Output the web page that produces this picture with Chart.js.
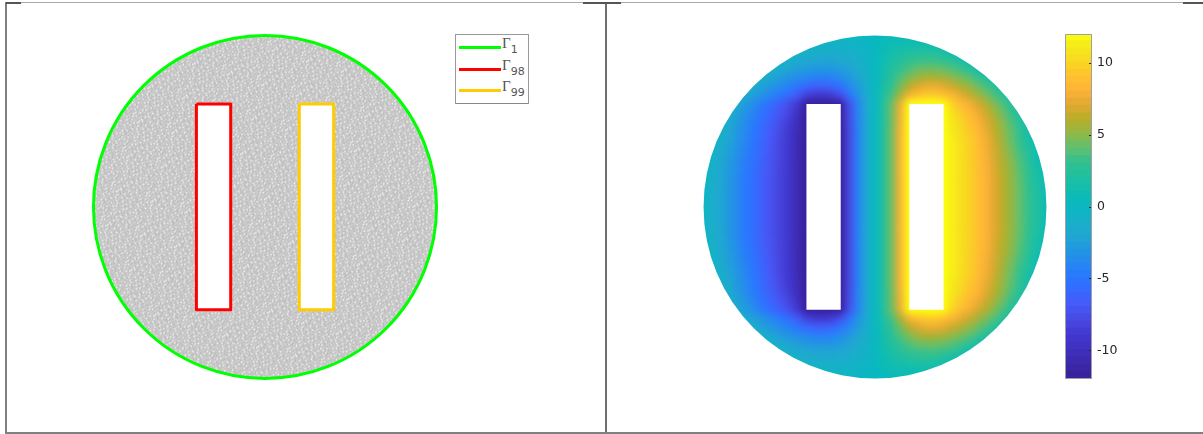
<!DOCTYPE html>
<html>
<head>
<meta charset="utf-8">
<title>Gamma boundaries and field</title>
<script src="https://cdn.jsdelivr.net/npm/chart.js@4"></script>
<style>
  html, body { margin: 0; padding: 0; background: #fff; }
  #fig { position: relative; width: 1203px; height: 434px; overflow: hidden; }
  #fig canvas { position: absolute; display: block; }
  .ln { position: absolute; z-index: 5; }
  #legenda { position: absolute; z-index: 6; left: 455px; top: 34px; width: 72px; height: 68px; background: #fff;
    border: 1px solid #999; border-bottom-color: #888; }
  #legenda .it { position: absolute; left: 3px; height: 20px; width: 68px; }
  #legenda i { position: absolute; left: 0; top: 0; width: 42px; height: 3px; }
  #legenda span { position: absolute; left: 43px; top: -11px; font: 15px 'Liberation Serif', serif; color: #555; white-space: nowrap; }
  #legenda sub { font: 11px 'DejaVu Sans', sans-serif; vertical-align: -5px; }
</style>
</head>
<body>
<div id="fig">
  <canvas id="chartMalha" style="left:0;top:0"></canvas>
  <canvas id="chartCampo" style="left:606px;top:0"></canvas>
  <canvas id="chartBarra" style="left:1065px;top:24px"></canvas>
  <div class="ln" style="left:5px;top:2px;width:1198px;height:1px;background:#aaa"></div>
  <div class="ln" style="left:5px;top:2px;width:2px;height:432px;background:#7f7f7f"></div>
  <div class="ln" style="left:605px;top:2px;width:2px;height:432px;background:#6e6e6e"></div>
  <div class="ln" style="left:5px;top:432px;width:1198px;height:2px;background:#808080"></div>
  <div class="ln" style="left:6px;top:2px;width:15px;height:2px;background:#555"></div>
  <div class="ln" style="left:583px;top:2px;width:38px;height:2px;background:#555"></div>
  <div class="ln" style="left:1183px;top:2px;width:20px;height:2px;background:#555"></div>
  <div id="legenda"></div>
</div>
<script>
// dimensoes do dominio: disco de raio 1 com dois furos retangulares
const discoCentro = [{ x: 0, y: 0 }];
const discoRaio = 1;
const furoEsq = [{ x: -0.4, y: 0.6 }, { x: -0.2, y: 0.6 }, { x: -0.2, y: -0.6 }, { x: -0.4, y: -0.6 }, { x: -0.4, y: 0.6 }];
const furoDir = [{ x: 0.2, y: 0.6 }, { x: 0.4, y: 0.6 }, { x: 0.4, y: -0.6 }, { x: 0.2, y: -0.6 }, { x: 0.2, y: 0.6 }];

const legendaNomes = ['1', '98', '99'];
const legendaCores = ['#00ff00', '#ff0000', '#ffcc00'];

// limites dos eixos (o disco tem 171.5 px por unidade)
const malhaX = [-1.545, 1.988];
const campoX = [-1.569, 1.913];
const eixoY = [-1.324, 1.207];

// colorbar
const barraTicks = [-10, -5, 0, 5, 10];
const barraLim = [-12, 12];
const barraNiveis = [-12, -11.5, -11, -10.5, -10, -9.5, -9, -8.5, -8, -7.5, -7, -6.5, -6, -5.5, -5, -4.5, -4, -3.5, -3, -2.5, -2, -1.5, -1, -0.5, 0,
  0.5, 1, 1.5, 2, 2.5, 3, 3.5, 4, 4.5, 5, 5.5, 6, 6.5, 7, 7.5, 8, 8.5, 9, 9.5, 10, 10.5, 11, 11.5, 12];

const mapaValores = [-12, -11, -10, -9, -8, -7, -6, -5, -4, -3, -2, -1, 0, 1, 2, 3, 4, 5, 6, 7, 8, 9, 10, 11, 12];
const mapaCores = ['#38209c', '#3c28a8', '#4030c0', '#4038d0', '#4848e0', '#4858f8', '#3868ff', '#2878ff', '#2888f0', '#2098e0', '#20a8d0', '#18b0c8',
  '#08b8c0', '#10bcb0', '#20c0a0', '#30c090', '#60c070', '#90b848', '#b8ae28', '#e0a830', '#ffb238', '#ffc030', '#f8d820', '#f5e81c', '#fcff10'];

const campoXs = [-1, -0.95, -0.9, -0.85, -0.8, -0.75, -0.7, -0.65, -0.6, -0.55, -0.5, -0.45, -0.4, -0.35, -0.3, -0.25, -0.2, -0.15, -0.1, -0.05, 0,
  0.05, 0.1, 0.15, 0.2, 0.25, 0.3, 0.35, 0.4, 0.45, 0.5, 0.55, 0.6, 0.65, 0.7, 0.75, 0.8, 0.85, 0.9, 0.95, 1];
const campoYs = [1, 0.95, 0.9, 0.85, 0.8, 0.75, 0.7, 0.65, 0.6, 0.55, 0.5, 0.45, 0.4, 0.35, 0.3, 0.25, 0.2, 0.15, 0.1, 0.05, 0,
  -0.05, -0.1, -0.15, -0.2, -0.25, -0.3, -0.35, -0.4, -0.45, -0.5, -0.55, -0.6, -0.65, -0.7, -0.75, -0.8, -0.85, -0.9, -0.95, -1];

const l100 = [-.3,-.3,-.3,-.3,-.3,-.3,-.3,-.3,-.3,-.3,-.3,-.3,-.3,-.3,-.3,-.3,-.3,-.3,-.3,-.2,0, .2,.4,.5,.5,.5,.5,.5,.5,.5,.5,.5,.5,.5,.5,.5,.5,.5,.5,.5,.5];
const l095 = [-.3,-.3,-.3,-.3,-.3,-.3,-.3,-.3,-.3,-.3,-.3,-.3,-.3,-.4,-.6,-.7,-.7,-.6,-.5,-.3,0, .4,.7,.9,1,1,.9,.6,.5,.5,.5,.5,.5,.5,.5,.5,.5,.5,.5,.5,.5];
const l090 = [-.3,-.3,-.3,-.3,-.3,-.3,-.3,-.3,-.3,-.3,-.3,-.6,-1,-1.2,-1.3,-1.3,-1.3,-1.1,-.9,-.5,0, .7,1.2,1.6,1.9,2.1,2.1,2,1.7,1,.5,.5,.5,.5,.5,.5,.5,.5,.5,.5,.5];
const l085 = [-.3,-.3,-.3,-.3,-.3,-.3,-.3,-.3,-.3,-.5,-1.2,-1.7,-2,-2.1,-2.2,-2.2,-2,-1.7,-1.3,-.7,0, .9,1.7,2.3,2.8,3.1,3.2,3.2,3,2.6,1.8,.9,.5,.5,.5,.5,.5,.5,.5,.5,.5];
const l080 = [-.3,-.3,-.3,-.3,-.3,-.3,-.3,-.3,-.8,-1.7,-2.2,-2.6,-2.9,-3.1,-3.2,-3.1,-2.8,-2.3,-1.7,-.9,0, 1.1,2.1,3,3.7,4.2,4.4,4.4,4.2,3.8,3.3,2.6,1.3,.5,.5,.5,.5,.5,.5,.5,.5];
const l075 = [-.3,-.3,-.3,-.3,-.3,-.3,-.5,-1.4,-2.2,-2.8,-3.3,-3.8,-4.2,-4.5,-4.6,-4.4,-3.9,-3.1,-2.2,-1.1,0, 1.3,2.6,3.7,4.7,5.4,5.8,5.8,5.6,5.1,4.6,4,3.2,2.1,.8,.5,.5,.5,.5,.5,.5];
const l070 = [-.3,-.3,-.3,-.3,-.3,-.8,-1.7,-2.5,-3.2,-3.9,-4.5,-5.2,-6,-6.5,-6.6,-6.2,-5.4,-4.1,-2.8,-1.4,0, 1.5,3,4.5,6,7,7.5,7.5,7.2,6.6,5.9,5.2,4.4,3.5,2.5,1.2,.5,.5,.5,.5,.5];
const l065 = [-.3,-.3,-.3,-.3,-.8,-1.7,-2.6,-3.4,-4.2,-5,-5.8,-7,-8.5,-9.2,-9.3,-8.8,-7.6,-5.4,-3.5,-1.7,0, 1.7,3.6,5.6,7.8,9,9.5,9.5,9,8.2,7.3,6.4,5.5,4.6,3.6,2.4,1.1,.5,.5,.5,.5];
const l060 = [-.3,-.3,-.3,-.6,-1.8,-2.9,-3.9,-4.9,-5.8,-6.7,-7.7,-9,-12,-12,-12,-12,-12,-7.5,-4.3,-2,0, 2,4.3,7.5,12,12,12,12,12,9.8,8.8,7.8,6.8,5.8,4.7,3.5,2.2,.8,.5,.5,.5];
const l055 = [-.3,-.3,-.4,-1.3,-2.4,-3.4,-4.4,-5.4,-6.3,-7.2,-8.2,-9.8,-12,-12,-12,-12,-12,-7.7,-4.4,-2,0, 2,4.4,7.7,12,12,12,12,12,10.5,9.4,8.5,7.5,6.5,5.4,4.2,3,1.7,.6,.5,.5];
const l050 = [-.3,-.3,-.6,-1.7,-2.8,-3.8,-4.8,-5.8,-6.7,-7.6,-8.7,-10.2,-12,-12,-12,-12,-12,-7.8,-4.4,-2,0, 2,4.4,7.8,12,12,12,12,12,10.9,9.9,9,8.1,7,5.9,4.7,3.5,2.2,1,.5,.5];
const l045 = [-.3,-.3,-.9,-2,-3,-4,-5,-6,-7,-7.9,-9,-10.4,-12,-12,-12,-12,-12,-7.9,-4.5,-2,0, 2,4.5,7.9,12,12,12,12,12,11,10.2,9.3,8.4,7.3,6.2,5,3.9,2.6,1.3,.5,.5];
const l040 = [-.3,-.3,-1.1,-2.2,-3.2,-4.2,-5.2,-6.2,-7.1,-8.1,-9.1,-10.5,-12,-12,-12,-12,-12,-8,-4.5,-2,0, 2,4.5,8,12,12,12,12,12,11.2,10.4,9.6,8.7,7.6,6.4,5.2,4,2.8,1.5,.5,.5];
const l035 = [-.3,-.5,-1.4,-2.4,-3.4,-4.4,-5.4,-6.3,-7.2,-8.2,-9.2,-10.6,-12,-12,-12,-12,-12,-8,-4.5,-2,0, 2,4.5,8,12,12,12,12,12,11.3,10.5,9.7,8.8,7.7,6.6,5.4,4.3,3.1,1.9,.7,.5];
const l030 = [-.3,-.6,-1.7,-2.6,-3.6,-4.6,-5.5,-6.4,-7.3,-8.2,-9.2,-10.6,-12,-12,-12,-12,-12,-8,-4.5,-2,0, 2,4.5,8,12,12,12,12,12,11.3,10.5,9.7,8.9,7.8,6.7,5.6,4.6,3.4,2.2,.9,.5];
const l025 = [-.3,-.8,-1.9,-2.8,-3.8,-4.8,-5.6,-6.5,-7.4,-8.3,-9.3,-10.6,-12,-12,-12,-12,-12,-8,-4.5,-2,0, 2,4.5,8,12,12,12,12,12,11.3,10.5,9.8,8.9,7.9,6.8,5.8,4.8,3.6,2.5,1.2,.5];
const l020 = [-.3,-1,-2,-2.9,-3.9,-4.9,-5.7,-6.6,-7.4,-8.3,-9.3,-10.6,-12,-12,-12,-12,-12,-8,-4.5,-2,0, 2,4.5,8,12,12,12,12,12,11.3,10.5,9.8,9,8,6.9,5.9,4.9,3.8,2.7,1.5,.5];
const l015 = [-.3,-1.1,-2,-3,-4,-5,-5.8,-6.7,-7.5,-8.4,-9.3,-10.6,-12,-12,-12,-12,-12,-8,-4.5,-2,0, 2,4.5,8,12,12,12,12,12,11.3,10.5,9.8,9,8.1,7,6,5,3.9,2.8,1.7,.6];
const l010 = [-.3,-1.2,-2.1,-3,-4,-5,-5.8,-6.7,-7.5,-8.4,-9.3,-10.6,-12,-12,-12,-12,-12,-8,-4.5,-2,0, 2,4.5,8,12,12,12,12,12,11.3,10.5,9.8,9,8.1,7,6,5,4,2.9,1.8,.7];
const l005 = [-.3,-1.2,-2.1,-3,-4,-5,-5.8,-6.7,-7.5,-8.4,-9.3,-10.6,-12,-12,-12,-12,-12,-8,-4.5,-2,0, 2,4.5,8,12,12,12,12,12,11.3,10.5,9.8,9,8.1,7,6,5,4,3,1.9,.8];
const l000 = [-.3,-1.2,-2.1,-3,-4,-5,-5.8,-6.7,-7.5,-8.4,-9.3,-10.6,-12,-12,-12,-12,-12,-8,-4.5,-2,0, 2,4.5,8,12,12,12,12,12,11.3,10.5,9.8,9,8.1,7,6,5,4,3,1.9,.8];
const campoLinhas = [l100, l095, l090, l085, l080, l075, l070, l065, l060, l055, l050, l045, l040, l035, l030, l025, l020, l015, l010, l005, l000,
  l005, l010, l015, l020, l025, l030, l035, l040, l045, l050, l055, l060, l065, l070, l075, l080, l085, l090, l095, l100];

// textura da malha (tile), 0 escuro .. 3 quase branco
const malhaTile = [
  '112031102113011203110213',
  '021102130110211021301102',
  '130112011203021130110211',
  '011210213011120311021301',
  '103011021102130112011120',
  '211130110301102031121103',
  '021102012113011210213011',
  '113021130110201130110212',
  '011201103021131021201301',
  '302110211201011203011120',
  '110311021130120110311021',
  '021102130011203021102130',
  '130120112102110211301102',
  '011211303011021130110213',
  '120130110211302011211011',
  '021011203110110213021302',
  '113021102130211011120110',
  '011201130110301120311021',
  '203110211021102130110213',
  '110213011203011021203011',
  '021101302110211301102120',
  '130211021011302110120311',
  '011030120213011021131021',
  '201121011102130211010211'
];
const malhaCinzas = ['#bababa', '#c8c8c8', '#d4d4d4', '#f2f2f2'];

function corDe(v) {
  let i = 0;
  while (i < mapaValores.length - 2 && v > mapaValores[i + 1]) i++;
  const t = Math.min(1, Math.max(0, (v - mapaValores[i]) / (mapaValores[i + 1] - mapaValores[i])));
  const a = parseInt(mapaCores[i].slice(1), 16), b = parseInt(mapaCores[i + 1].slice(1), 16);
  const c = s => Math.round(((a >> s) & 255) * (1 - t) + ((b >> s) & 255) * t);
  return `rgb(${c(16)},${c(8)},${c(0)})`;
}

function padraoMalha() {
  const tile = document.createElement('canvas');
  tile.width = tile.height = malhaTile.length;
  const t = tile.getContext('2d');
  malhaTile.forEach((lin, y) => [...lin].forEach((ch, x) => {
    t.fillStyle = malhaCinzas[+ch];
    t.fillRect(x, y, 1, 1);
  }));
  const p = document.getElementById('chartMalha').getContext('2d').createPattern(tile, 'repeat');
  // gira um pouco para nao aparecer a grade do tile
  p.setTransform(new DOMMatrix().rotate(17).scale(1.5));
  return p;
}

function raioPx(ctx) {
  const s = ctx.chart.scales.x;
  return Math.abs(s.getPixelForValue(discoRaio) - s.getPixelForValue(0));
}

function baseOpt(xLim) {
  return {
    responsive: false, animation: false, events: [],
    layout: { padding: 0, autoPadding: false },
    plugins: { legend: { display: false }, tooltip: { enabled: false } },
    scales: {
      x: { type: 'linear', display: false, min: xLim[0], max: xLim[1] },
      y: { type: 'linear', display: false, min: eixoY[0], max: eixoY[1] }
    }
  };
}

function criaCanvas(id, w, h) {
  const c = document.getElementById(id);
  c.width = w; c.height = h;
  c.style.width = w + 'px'; c.style.height = h + 'px';
  return c;
}

function furoDataset(data, cor, largura, ordem) {
  return { data, showLine: true, fill: 'shape', backgroundColor: '#fff', borderColor: cor, borderWidth: largura,
    borderJoinStyle: 'round', pointRadius: 0, tension: 0, order: ordem };
}

// painel esquerdo: malha e contornos
criaCanvas('chartMalha', 606, 434);
new Chart(document.getElementById('chartMalha'), {
  type: 'scatter',
  data: {
    datasets: [
      furoDataset(furoDir, legendaCores[2], 3, 1),
      furoDataset(furoEsq, legendaCores[1], 3, 2),
      { data: discoCentro, pointRadius: raioPx, pointBackgroundColor: padraoMalha(), pointBorderColor: legendaCores[0], pointBorderWidth: 3, order: 3 }
    ]
  },
  options: baseOpt(malhaX)
});

// desfoca as celulas do campo e recorta no disco
const recorteDisco = {
  id: 'recorteDisco',
  afterDatasetDraw(chart, args) {
    if (args.index !== 2) return;
    const { ctx, canvas, scales: { x, y } } = chart;
    const r = Math.abs(x.getPixelForValue(discoRaio) - x.getPixelForValue(0));
    const cx = x.getPixelForValue(0), cy = y.getPixelForValue(0);
    ctx.save();
    ctx.filter = 'blur(3.5px)';
    ctx.drawImage(canvas, 0, 0);
    ctx.filter = 'none';
    ctx.beginPath();
    ctx.rect(0, 0, canvas.width, canvas.height);
    ctx.arc(cx, cy, r, 0, Math.PI * 2);
    ctx.fillStyle = '#fff';
    ctx.fill('evenodd');
    ctx.restore();
  }
};

const celulas = [];
const celulasCor = [];
campoLinhas.forEach((lin, i) => lin.forEach((v, j) => {
  celulas.push({ x: campoXs[j], y: campoYs[i] });
  celulasCor.push(corDe(v));
}));

// painel direito: campo
criaCanvas('chartCampo', 597, 434);
new Chart(document.getElementById('chartCampo'), {
  type: 'scatter',
  data: {
    datasets: [
      furoDataset(furoDir, '#fff', 0, 1),
      furoDataset(furoEsq, '#fff', 0, 2),
      { data: celulas, pointStyle: 'rect', pointRadius: 6.5, pointBorderWidth: 0, pointBackgroundColor: celulasCor, order: 3 }
    ]
  },
  plugins: [recorteDisco],
  options: baseOpt(campoX)
});

// moldura e tracinhos internos da colorbar
const molduraBarra = {
  id: 'molduraBarra',
  afterDatasetsDraw(chart) {
    const { ctx, chartArea: a, scales: { y } } = chart;
    ctx.save();
    ctx.strokeStyle = '#262626';
    ctx.lineWidth = 1;
    barraTicks.forEach(v => {
      const py = Math.round(y.getPixelForValue(v)) + 0.5;
      ctx.beginPath(); ctx.moveTo(a.right - 3, py); ctx.lineTo(a.right, py); ctx.stroke();
    });
    ctx.strokeStyle = '#a0a0a0';
    ctx.strokeRect(a.left + 0.5, a.top + 0.5, a.right - a.left - 1, a.bottom - a.top - 1);
    ctx.restore();
  }
};

const barraFaixas = barraNiveis.slice(0, -1).map((v, i) => {
  const cor = corDe((v + barraNiveis[i + 1]) / 2);
  return { data: [[v, barraNiveis[i + 1]]], backgroundColor: cor, borderColor: cor, borderWidth: 0, inflateAmount: 1, borderSkipped: false,
    grouped: false, barPercentage: 1, categoryPercentage: 1 };
});

criaCanvas('chartBarra', 138, 365);
new Chart(document.getElementById('chartBarra'), {
  type: 'bar',
  data: { labels: ['campo'], datasets: barraFaixas },
  plugins: [molduraBarra],
  options: {
    responsive: false, animation: false, events: [],
    layout: { padding: { top: 10, bottom: 10 }, autoPadding: false },
    plugins: { legend: { display: false }, tooltip: { enabled: false } },
    scales: {
      x: { display: false },
      y: {
        position: 'right', min: barraLim[0], max: barraLim[1],
        grid: { display: false, tickLength: 0 }, border: { display: false },
        afterBuildTicks: ax => { ax.ticks = barraTicks.map(value => ({ value })); },
        afterFit: ax => { ax.width = 111; ax.paddingTop = 0; ax.paddingBottom = 0; },
        ticks: { padding: 5, color: '#262626', font: { family: "'DejaVu Sans', sans-serif", size: 12.5 } }
      }
    }
  }
});

// legenda
const alturasLegenda = [11, 33, 54];
document.getElementById('legenda').innerHTML = legendaNomes.map((n, i) =>
  `<div class="it" style="top:${alturasLegenda[i]}px"><i style="background:${legendaCores[i]}"></i><span>Γ<sub>${n}</sub></span></div>`).join('');
</script>
</body>
</html>
